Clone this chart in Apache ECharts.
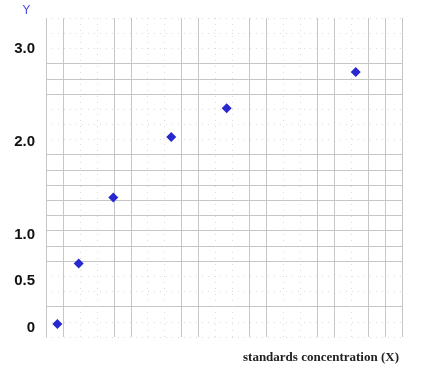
<!DOCTYPE html>
<html>
<head>
<meta charset="utf-8">
<script src="https://cdn.jsdelivr.net/npm/echarts@6/dist/echarts.min.js"></script>
<style>html,body{margin:0;padding:0;background:#fff;}#c{width:444px;height:368px;}</style>
</head>
<body>
<div id="c"></div>
<script>
// Data
var xValues = [0.67, 1.93, 3.97, 7.39, 10.66, 18.27];
var yValues = [0.04, 0.69, 1.40, 2.05, 2.36, 2.75];
var yTickValues = [0, 0.5, 1, 2, 3];
var yTickLabels = ['0', '0.5', '1.0', '2.0', '3.0'];
var xName = 'standards concentration (X)';
var yName = 'Y';

var points = xValues.map(function (x, i) { return [x, yValues[i]]; });

var S = '#c6c6c6', T = 'rgba(0,0,0,0)';
// solid grid line pattern, bottom -> top / left -> right
var ySolid = [T, T, S, T, T, S, S, S, S, S, S, S, S, T, T, T, S, S, S, T, T, T];
var xSolid = [S, S, T, T, S, S, T, T, S, S, T, T, S, S, T, T, S, S, T, S, S, S];
var dotted = { show: true, lineStyle: { color: '#dcdcdc', width: 1, type: [1, 5] } };

var chart = echarts.init(document.getElementById('c'));
chart.setOption({
  animation: false,
  backgroundColor: '#fff',
  grid: { left: 46, right: 42, top: 18, bottom: 31, containLabel: false },
  xAxis: [
    { type: 'value', position: 'bottom', offset: 0, min: 0, max: 21, interval: 1, axisLine: { show: false }, axisTick: { show: false },
      axisLabel: { show: false }, splitLine: dotted },
    { type: 'value', position: 'bottom', offset: 0, min: 0, max: 21, interval: 1, axisLine: { show: false }, axisTick: { show: false },
      axisLabel: { show: false },
      splitLine: { show: true, lineStyle: { color: xSolid, width: 1 } },
      name: xName, nameLocation: 'end', nameGap: -3,
      nameTextStyle: { fontFamily: 'Liberation Serif', fontWeight: 'bold', fontSize: 13, color: '#222',
        align: 'right', verticalAlign: 'top', padding: [14, 0, 0, 0] } }
  ],
  yAxis: [
    { type: 'value', position: 'left', offset: 0, min: 0, max: 21, interval: 1, axisLine: { show: false }, axisTick: { show: false },
      axisLabel: { show: false }, splitLine: dotted },
    { type: 'value', position: 'left', offset: 0, min: 0, max: 21, interval: 1, axisLine: { show: false }, axisTick: { show: false },
      axisLabel: { show: false },
      splitLine: { show: true, lineStyle: { color: ySolid, width: 1 } } },
    { type: 'value', position: 'left', offset: 0, min: -0.1, max: 3.33, axisLine: { show: false }, axisTick: { show: false },
      splitLine: { show: false },
      axisLabel: { show: true, customValues: yTickValues, margin: 11,
        fontFamily: 'Liberation Sans', fontWeight: 'bold', fontSize: 15, color: '#111',
        formatter: function (v) {
          for (var i = 0; i < yTickValues.length; i++) { if (Math.abs(yTickValues[i] - v) < 1e-9) return yTickLabels[i]; }
          return '';
        } },
      name: yName, nameLocation: 'end', nameGap: 1,
      nameTextStyle: { fontFamily: 'DejaVu Sans', fontWeight: 'normal', fontSize: 12, color: '#4f4fe0',
        align: 'center', padding: [0, 39, 0, 0] } }
  ],
  series: [{
    type: 'scatter', xAxisIndex: 1, yAxisIndex: 2, data: points,
    symbol: 'diamond', symbolSize: [10, 10],
    itemStyle: { color: '#2828d0', opacity: 1 }
  }]
});
</script>
</body>
</html>
